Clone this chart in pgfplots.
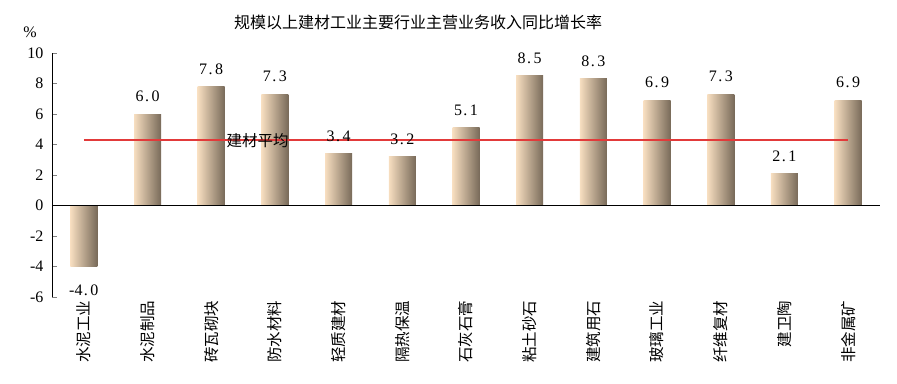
\documentclass[border=0pt]{standalone}
\usepackage{fontspec}
\usepackage{pgfplots}
\pgfplotsset{compat=1.18}
\setmainfont{Liberation Serif}
\newfontfamily\cjk{Noto Sans CJK SC}
\definecolor{barL}{HTML}{F7DEC0}
\definecolor{barR}{HTML}{786A59}
\definecolor{avgred}{HTML}{E23A3A}
\pgfplotsset{mybar/.style={ybar, bar width=27pt, draw=none, left color=barL, right color=barR,
  nodes near coords={\pgfmathprintnumber[fixed,fixed zerofill,precision=1,set decimal separator={\hspace{1.5pt}.\hspace{2.5pt}}]{\pgfplotspointmeta}},
  nodes near coords style={font=\fontsize{16}{16}\selectfont, inner ysep=12pt, inner xsep=0pt, text=black}}}
\begin{document}
\begin{tikzpicture}
\begin{axis}[
  scale only axis, width=828pt, height=244pt,
  xmin=-0.5, xmax=12.5, ymin=-6, ymax=10,
  axis y line*=left, axis x line*=bottom,
  x axis line style={draw=none},
  major x tick style={draw=none},
  ytick={-6,-4,...,10},
  tick align=inside, major tick length=5pt,
  xtick={0,...,12},
  xticklabels={水泥工业,水泥制品,砖瓦砌块,防水材料,轻质建材,隔热保温,石灰石膏,粘土砂石,建筑用石,玻璃工业,纤维复材,建卫陶,非金属矿},
  xticklabel style={rotate=90, anchor=east, font=\cjk\fontsize{15.5}{15.5}\selectfont},
  yticklabel style={font=\fontsize{16}{16}\selectfont, xshift=-5pt},
  /pgf/number format/assume math mode=true,
  clip=false,
]
\addplot[mybar, nodes near coords style={yshift=-6pt}] coordinates {(0,-4.0)};
\addplot[mybar] coordinates {(1,6.0)};
\addplot[mybar] coordinates {(2,7.8)};
\addplot[mybar] coordinates {(3,7.3)};
\addplot[mybar] coordinates {(4,3.4)};
\addplot[mybar] coordinates {(5,3.2)};
\addplot[mybar] coordinates {(6,5.1)};
\addplot[mybar] coordinates {(7,8.5)};
\addplot[mybar] coordinates {(8,8.3)};
\addplot[mybar] coordinates {(9,6.9)};
\addplot[mybar] coordinates {(10,7.3)};
\addplot[mybar] coordinates {(11,2.1)};
\addplot[mybar] coordinates {(12,6.9)};
\addplot[black, line width=0.7pt, no marks] coordinates {(-0.5,0)(12.5,0)};
\addplot[avgred, line width=1.3pt, no marks] coordinates {(0,4.3)(12,4.3)};
\node[font=\cjk\fontsize{15.5}{15.5}\selectfont] at (axis cs:2.73,4.25) {建材平均};
\end{axis}
\node[font=\cjk\fontsize{16}{16}\selectfont] at ([shift={(366pt,31pt)}]current axis.north west) {规模以上建材工业主要行业主营业务收入同比增长率};
\node[font=\fontsize{16}{16}\selectfont] at ([shift={(-22pt,21pt)}]current axis.north west) {\%};
\pgfresetboundingbox
\path ([shift={(-52pt,-86pt)}]current axis.south west) rectangle ([shift={(17pt,53pt)}]current axis.north east);
\end{tikzpicture}
\end{document}
